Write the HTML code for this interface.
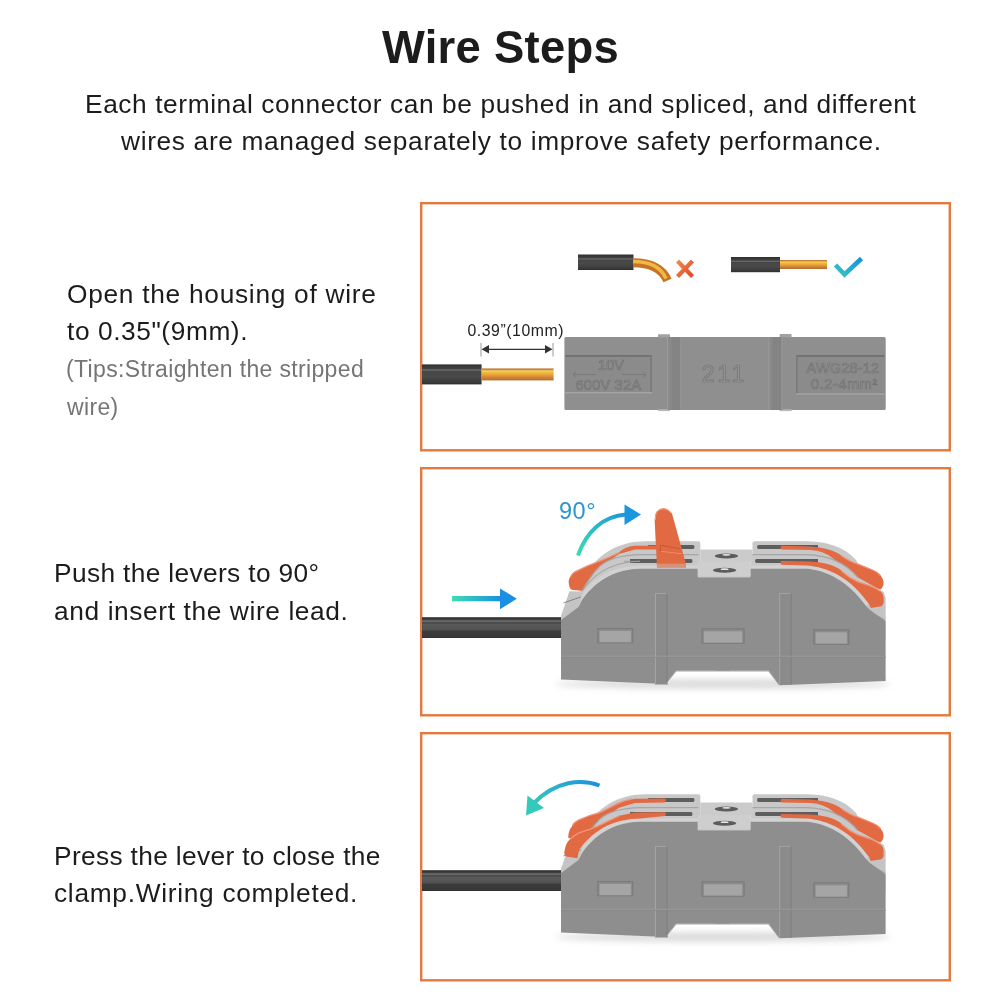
<!DOCTYPE html>
<html><head><meta charset="utf-8">
<style>
html,body{margin:0;padding:0;background:#fff;}
body{width:1000px;height:1000px;overflow:hidden;position:relative;}
.t{position:absolute;will-change:transform;font-family:"Liberation Sans",sans-serif;white-space:nowrap;line-height:1;color:#1c1c1c;}
svg{position:absolute;left:0;top:0;}
</style></head><body>
<div class="t" id="title" style="left:382px;top:25.0px;font-size:45.4px;font-weight:700;letter-spacing:0.278px;color:#1c1c1c;">Wire Steps</div>
<div class="t" id="s1" style="left:85px;top:90.6px;font-size:26.3px;font-weight:400;letter-spacing:0.591px;color:#1c1c1c;">Each terminal connector can be pushed in and spliced, and different</div>
<div class="t" id="s2" style="left:121px;top:127.6px;font-size:26.3px;font-weight:400;letter-spacing:0.655px;color:#1c1c1c;">wires are managed separately to improve safety performance.</div>
<div class="t" id="a1" style="left:66.5px;top:280.6px;font-size:26.3px;font-weight:400;letter-spacing:0.717px;color:#1c1c1c;">Open the housing of wire</div>
<div class="t" id="a2" style="left:67px;top:317.6px;font-size:26.3px;font-weight:400;letter-spacing:0.577px;color:#1c1c1c;">to 0.35"(9mm).</div>
<div class="t" id="a3" style="left:66px;top:358.4px;font-size:23px;font-weight:400;letter-spacing:0.343px;color:#757575;">(Tips:Straighten the stripped</div>
<div class="t" id="a4" style="left:66.6px;top:395.8px;font-size:23px;font-weight:400;letter-spacing:0.35px;color:#757575;">wire)</div>
<div class="t" id="b1" style="left:54px;top:560.4px;font-size:26.3px;font-weight:400;letter-spacing:0.357px;color:#1c1c1c;">Push the levers to 90°</div>
<div class="t" id="b2" style="left:53.75px;top:597.5px;font-size:26.3px;font-weight:400;letter-spacing:0.612px;color:#1c1c1c;">and insert the wire lead.</div>
<div class="t" id="c1" style="left:53.75px;top:842.7px;font-size:26.3px;font-weight:400;letter-spacing:0.341px;color:#1c1c1c;">Press the lever to close the</div>
<div class="t" id="c2" style="left:53.75px;top:879.5px;font-size:26.3px;font-weight:400;letter-spacing:0.705px;color:#1c1c1c;">clamp.Wiring completed.</div>

<svg width="1000" height="1000" viewBox="0 0 1000 1000">
<defs>
 <linearGradient id="cop" x1="0" y1="0" x2="0" y2="1">
  <stop offset="0" stop-color="#c27838"/><stop offset="0.14" stop-color="#cf8a40"/><stop offset="0.2" stop-color="#f4dc6c"/><stop offset="0.3" stop-color="#f2c03c"/><stop offset="0.5" stop-color="#e9a83a"/><stop offset="0.72" stop-color="#d4883a"/><stop offset="1" stop-color="#b76b2c"/>
 </linearGradient>
 <linearGradient id="blk" x1="0" y1="0" x2="0" y2="1">
  <stop offset="0" stop-color="#2c2c2c"/><stop offset="0.08" stop-color="#383838"/><stop offset="0.2" stop-color="#3e3e3e"/><stop offset="0.28" stop-color="#6c6c6c"/><stop offset="0.36" stop-color="#464646"/><stop offset="0.6" stop-color="#4a4a4a"/><stop offset="0.9" stop-color="#3a3a3a"/><stop offset="1" stop-color="#2c2c2c"/>
 </linearGradient>
 <linearGradient id="chk" x1="0" y1="1" x2="1" y2="0">
  <stop offset="0" stop-color="#34c7c4"/><stop offset="1" stop-color="#1a8ee0"/>
 </linearGradient>
 <linearGradient id="xg" x1="0" y1="0" x2="1" y2="1">
  <stop offset="0" stop-color="#f08a48"/><stop offset="1" stop-color="#e2492a"/>
 </linearGradient>
 <linearGradient id="arr" x1="0" y1="0" x2="1" y2="0">
  <stop offset="0" stop-color="#3ddcb2"/><stop offset="1" stop-color="#1a8fe2"/>
 </linearGradient>
 <linearGradient id="arr2" x1="452" y1="0" x2="501" y2="0" gradientUnits="userSpaceOnUse"><stop offset="0" stop-color="#3ddcb2"/><stop offset="1" stop-color="#1a8fe2"/></linearGradient>
 <linearGradient id="arc1" x1="578" y1="555" x2="626" y2="514" gradientUnits="userSpaceOnUse"><stop offset="0" stop-color="#3ddbb0"/><stop offset="1" stop-color="#1a96de"/></linearGradient>
 <linearGradient id="arc2" x1="600" y1="784" x2="530" y2="805" gradientUnits="userSpaceOnUse"><stop offset="0" stop-color="#1a8fe0"/><stop offset="1" stop-color="#35c9bb"/></linearGradient>
 <filter id="blur3" x="-20%" y="-200%" width="140%" height="500%"><feGaussianBlur stdDeviation="3"/></filter>
 <linearGradient id="wg" x1="0" y1="0" x2="0" y2="1">
  <stop offset="0" stop-color="#2e2e2e"/><stop offset="0.1" stop-color="#3a3a3a"/><stop offset="0.19" stop-color="#727272"/><stop offset="0.27" stop-color="#424242"/><stop offset="0.34" stop-color="#5a5a5a"/><stop offset="0.6" stop-color="#525252"/><stop offset="0.68" stop-color="#3c3c3c"/><stop offset="0.95" stop-color="#383838"/><stop offset="1" stop-color="#2c2c2c"/>
 </linearGradient>
</defs>

<!-- boxes -->
<g fill="none" stroke="#e3793f" stroke-width="2.4">
 <rect x="421.2" y="203.2" width="528.6" height="247.1"/>
 <rect x="421.2" y="468.2" width="528.6" height="247.1"/>
 <rect x="421.2" y="733.2" width="528.6" height="247.1"/>
</g>

<!-- ===== BOX 1 ===== -->
<!-- bent wire -->
<rect x="578" y="254.5" width="55.5" height="15.5" fill="url(#blk)"/>
<path d="M633,262.8 C650,262.8 662,268 667.5,280.5" fill="none" stroke="#c57428" stroke-width="9"/>
<path d="M633,261.5 C650,261.5 661,267 666,278.5" fill="none" stroke="#f0b844" stroke-width="3.5"/>
<!-- X -->
<g stroke="url(#xg)" stroke-width="4.2" stroke-linecap="butt">
 <line x1="677.5" y1="261" x2="692.5" y2="276.5"/>
 <line x1="692.5" y1="261" x2="677.5" y2="276.5"/>
</g>
<!-- straight wire -->
<rect x="731" y="257" width="49" height="15.2" fill="url(#blk)"/>
<rect x="780" y="260" width="47" height="9" fill="url(#cop)"/>
<!-- check -->
<polyline points="835.5,265 844.5,274.5 861.5,258.5" fill="none" stroke="url(#chk)" stroke-width="4.6"/>

<!-- dimension -->
<text x="467.5" y="335.6" font-family="Liberation Sans" font-size="15.8" fill="#222" letter-spacing="0.55">0.39”(10mm)</text>
<g stroke="#9a9a9a" stroke-width="1"><line x1="481" y1="343" x2="481" y2="356.5"/><line x1="553" y1="343" x2="553" y2="356.5"/></g>
<line x1="484" y1="349.3" x2="550" y2="349.3" stroke="#333" stroke-width="1.2"/>
<path d="M481.5,349.3 L489,345 L489,353.6Z M552.5,349.3 L545,345 L545,353.6Z" fill="#333"/>
<!-- wire with copper -->
<rect x="422" y="364.4" width="59.6" height="20" fill="url(#blk)"/>
<rect x="481.6" y="368.4" width="72" height="12" fill="url(#cop)"/>

<!-- flat connector -->
<g>
 <rect x="564.4" y="337" width="321.3" height="73" rx="1.5" fill="#8f8f8f"/>
 <rect x="658" y="334.3" width="12" height="3.2" rx="0.8" fill="#a2a2a2"/>
 <rect x="779.6" y="334.1" width="12" height="3.2" rx="0.8" fill="#a2a2a2"/>
 <rect x="658" y="409.3" width="12" height="1.8" fill="#b8b8b8"/>
 <rect x="779.6" y="409.3" width="12" height="1.8" fill="#b8b8b8"/>
 <rect x="667" y="337" width="14" height="73" fill="#8a8a8a"/>
 <rect x="671.5" y="337" width="9" height="73" fill="#848484"/>
 <rect x="667" y="337" width="1" height="73" fill="#9c9c9c"/>
 <rect x="680.3" y="337" width="1" height="73" fill="#989898"/>
 <rect x="768.4" y="337" width="14" height="73" fill="#8a8a8a"/>
 <rect x="772.5" y="337" width="9" height="73" fill="#848484"/>
 <rect x="768.4" y="337" width="1" height="73" fill="#9c9c9c"/>
 <rect x="781.4" y="337" width="1" height="73" fill="#989898"/>
 <rect x="565.2" y="355" width="86.7" height="37.3" fill="#8b8b8b"/>
 <rect x="565.2" y="355" width="86.7" height="1.8" fill="#707070"/>
 <rect x="650.3" y="355" width="1.6" height="37.3" fill="#7a7a7a"/>
 <rect x="565.2" y="392" width="86.7" height="1.5" fill="#a4a4a4"/>
 <rect x="796" y="355" width="88.4" height="39" fill="#8b8b8b"/>
 <rect x="796" y="355" width="88.4" height="1.8" fill="#707070"/>
 <rect x="796" y="355" width="1.6" height="39" fill="#7a7a7a"/>
 <rect x="796" y="393.3" width="88.4" height="1.5" fill="#a4a4a4"/>
 <g font-family="Liberation Sans" fill="#959595" stroke="#727272" stroke-width="0.7">
  <text x="724.5" y="382" font-size="23" text-anchor="middle" letter-spacing="3">211</text>
  <text x="611" y="370" font-size="14.5" text-anchor="middle">10V</text>
  <text x="608.5" y="390" font-size="14.5" text-anchor="middle" letter-spacing="0.3">600V 32A</text>
  <text x="843" y="372.5" font-size="14.5" text-anchor="middle" letter-spacing="0.2">AWG28-12</text>
  <text x="844.5" y="388.5" font-size="14.5" text-anchor="middle" letter-spacing="0.6">0.2-4mm²</text>
 </g>
 <g stroke="#767676" stroke-width="0.8" fill="none">
  <path d="M 573,374.5 L 596,374.5 M 576,372 L 573,374.5 L 576,377 M 622,374.5 L 646,374.5 M 643,372 L 646,374.5 L 643,377"/>
 </g>
</g>
<!--CONN-->
<g>
<rect x="422" y="617.2" width="139" height="20.8" fill="url(#wg)"/>
<ellipse cx="723" cy="684" rx="168" ry="5" fill="#dcdcdc" filter="url(#blur3)"/>
<path d="M 700.3,543.3 Q 700.3,541.3 698.3,541.3 L 645,541.3 C 622,541.8 604,550 590,568 L 580,590 L 580,640 L 700.3,640 Z" fill="#c8c8c8" />
<path d="M 752.5,543.3 Q 752.5,541.3 754.5,541.3 L 808,541.3 C 828,541.8 844,547 856,560 L 872,590 L 872,640 L 752.5,640 Z" fill="#c8c8c8" />
<path d="M 648,544.9 L 693.5,544.9 Q 695.5,546.9 693.5,549 L 648,549 Z" fill="#5e5e5e" />
<path d="M 758,544.9 L 818,544.9 L 818,549 L 758,549 Q 756,546.9 758,544.9 Z" fill="#5e5e5e" />
<path d="M 662,545.6 L 635,545.8 C 627,546.3 623,549 619,552.4 L 607,558 L 599,561.2 L 587,566 L 575,571.6 Q 572,573.5 571,575.6 Q 568.8,578.5 568.6,582 L 569.4,586.8 Q 570,589.5 572.6,590 L 582.2,590.8 L 590,580 L 600,567 L 619,554 L 635,549.6 L 662,549.4 Z" fill="#e26a43" />
<path d="M 619,552.6 L 607,558.2 L 599,561.4 L 587,566.2 L 575,571.8 Q 572,573.7 571.2,575.8" fill="none" stroke="#ef9478" stroke-width="1.3" stroke-linecap="round"/>
<path d="M 781.5,545.8 L 810,546.4 C 822,547.5 834,549.5 842,556 C 848,560 853,562.5 858,564 L 870,568.8 Q 878,572 880.4,575.2 Q 883.6,579 883.6,582.4 Q 883.6,587 880.4,589.6 L 870,586 L 858,581 L 850,577 L 842,571 C 836,556 822,550.5 810,550 L 781.5,549.6 Q 779.5,547.7 781.5,545.8 Z" fill="#e26a43" />
<path d="M 842,556.2 C 848,560.2 853,562.7 858,564.2 L 870,569 Q 878,572.2 880.2,575.4" fill="none" stroke="#ef9478" stroke-width="1.3" stroke-linecap="round"/>
<path d="M 698.5,556.3 Q 698.5,554.5 696.7,554.5 L 640,554.5 C 622,555 608,559 600,566 C 592,574 587,582 582,591 L 584,640 L 698.5,640 Z" fill="#c8c8c8" />
<path d="M 698.5,554.6 L 640,554.6 C 622,555 608,559 600,566 C 592,574 587,582 582,591" fill="none" stroke="#a6a6a6" stroke-width="1.1" />
<path d="M 750.7,556.3 Q 750.7,554.5 752.5,554.5 L 806,554.5 C 826,555 845,562 858,577.6 L 884,592 L 884,640 L 750.7,640 Z" fill="#c8c8c8" />
<path d="M 750.7,554.6 L 806,554.6 C 826,555 845,562 858,577.6" fill="none" stroke="#a6a6a6" stroke-width="1.1" />
<path d="M 630,558.9 L 691.5,558.9 Q 693.5,561 691.5,563.1 L 630,563.1 Z" fill="#5e5e5e" />
<path d="M 756,558.9 L 818,558.9 L 818,563.1 L 756,563.1 Q 754,561 756,558.9 Z" fill="#5e5e5e" />
<path d="M 730,565.4 L 640,565.4 C 616,565.9 595,574.6 579,597 L 575.5,606 L 561,616 L 561,640 L 730,640 Z" fill="#d2d2d2" />
<path d="M 716,565.4 L 806,565.4 C 828,566.6 851,578 869,604 L 873,609 L 885.6,617 L 885.6,640 L 716,640 Z" fill="#d2d2d2" />
<path d="M 569.4,591.2 L 583.5,591.4 L 578.5,607 L 561,620 L 561,616 Z" fill="#c4c4c4" />
<path d="M 563.5,603 L 580.5,597" fill="none" stroke="#707070" stroke-width="0.8" />
<path d="M 866,606 L 884,593 L 885.6,598 L 885.6,621.2 L 870,610 Z" fill="#c4c4c4" />
<path d="M 870.5,612 L 885,620" fill="none" stroke="#9a9a9a" stroke-width="0.8" />
<path d="M 624,561.3 L 640,561.3 C 616,561.8 597,570 583,590" fill="none" stroke="#9c9c9c" stroke-width="0.9" />
<path d="M 781.5,561 L 810,561.6 C 818,562 826,563.5 830,564.8 C 836,567 840,569 842,571.2 L 850,577.6 L 858,581.6 L 870,585.6 Q 878,589 880.4,591.2 Q 883.6,594 883.6,598 L 883.6,602.4 Q 883,606 880,606.6 L 870.8,608 L 869,604 C 851,578 828,566.6 806,565.4 L 781.5,564.8 Q 779.5,562.9 781.5,561 Z" fill="#e26a43" />
<path d="M 842,571.4 L 850,577.8 L 858,581.8 L 870,585.8 Q 878,589.2 880.2,591.4" fill="none" stroke="#ef9478" stroke-width="1.3" stroke-linecap="round"/>
<path d="M 730,568.8 L 640,568.8 C 618,569.3 598,578 582,600 L 578.5,607 L 561,620 L 561,679.5 L 665.5,684 L 676,670.8 L 730,670.8 Z" fill="#8e8e8e" />
<path d="M 716,568.8 L 806,568.8 C 826,570 848,581 866,606 L 870,610 L 885.6,621.2 L 885.6,681 L 779.5,685.2 L 768.8,670.8 L 716,670.8 Z" fill="#8e8e8e" />
<rect x="655" y="593" width="12.3" height="91.5" fill="#8b8b8b"/>
<path d="M 655.5,593 L 655.5,684.5" fill="none" stroke="#a4a4a4" stroke-width="1" />
<path d="M 655,593.5 L 667.3,593.5" fill="none" stroke="#a2a2a2" stroke-width="1" />
<path d="M 667,593 L 667,684.5" fill="none" stroke="#7e7e7e" stroke-width="1" />
<rect x="779.2" y="593" width="12.3" height="91.5" fill="#8b8b8b"/>
<path d="M 779.7,593 L 779.7,684.5" fill="none" stroke="#a4a4a4" stroke-width="1" />
<path d="M 779.2,593.5 L 791.5,593.5" fill="none" stroke="#a2a2a2" stroke-width="1" />
<path d="M 791.2,593 L 791.2,684.5" fill="none" stroke="#7e7e7e" stroke-width="1" />
<path d="M 561,656.3 L 885.6,656.3" fill="none" stroke="#9e9e9e" stroke-width="1" />
<path d="M 561,657.3 L 885.6,657.3" fill="none" stroke="#878787" stroke-width="0.8" />
<path d="M 666,683.5 L 676.3,671 L 768.5,671 L 779,684.7" fill="none" stroke="#9c9c9c" stroke-width="0.9" />
<rect x="597.2" y="628" width="36.1" height="15.3" fill="#7a7a7a"/>
<rect x="598.3000000000001" y="629.1" width="33.9" height="13.5" fill="#8b8b8b"/>
<rect x="599.6" y="631" width="31.3" height="11.1" fill="#a5a5a5"/>
<rect x="701.5" y="628.3" width="43.1" height="15.4" fill="#7a7a7a"/>
<rect x="702.6" y="629.4" width="40.9" height="13.6" fill="#8b8b8b"/>
<rect x="703.9" y="631.3" width="38.3" height="11.2" fill="#a5a5a5"/>
<rect x="813.3" y="629.3" width="36" height="15.4" fill="#7a7a7a"/>
<rect x="814.4" y="630.4" width="33.8" height="13.6" fill="#8b8b8b"/>
<rect x="815.6999999999999" y="632.3" width="31.2" height="11.2" fill="#a5a5a5"/>
<path d="M 700.3,549.5 L 752.5,549.5 L 752.5,562 L 700.3,562 Z" fill="#cbcbcb" />
<ellipse cx="726.4" cy="555.9" rx="11.7" ry="2.5" fill="#5c5c5c"/>
<ellipse cx="726.4" cy="554.8" rx="4" ry="0.9" fill="#e6e6e6"/>
<path d="M 697.6,562 L 750.7,562 L 750.7,576 Q 750.7,577.6 749,577.6 L 699,577.6 Q 697.6,577.6 697.6,576 Z" fill="#cecece" />
<path d="M 698.5,577.4 L 750,577.4" fill="none" stroke="#a6a6a6" stroke-width="1" />
<ellipse cx="724.6" cy="570.3" rx="11.7" ry="2.5" fill="#5c5c5c"/>
<ellipse cx="724.6" cy="569.2" rx="4" ry="0.9" fill="#e6e6e6"/>
<path d="M 657,567.5 L 654.75,522.5 Q 654.5,514 657,511 Q 660.5,508 664,508.3 Q 669,509 672,513.5 L 685.5,562.3 L 686,567.5 Z" fill="#e26a43" />
<path d="M 657,563.8 L 685.5,563.8 L 686,567.5 L 657,567.5 Z" fill="#d98f78" />
<path d="M 660.4,551.2 L 660.4,545.2 L 679.5,548.6" fill="none" stroke="#c9572f" stroke-width="1" />
<path d="M 661,551.3 L 682,553.8" fill="none" stroke="#ee8a66" stroke-width="1" />
<path d="M 655.3,520 Q 655,514 657.5,511.3 Q 660.5,508.6 664,508.8 Q 668.5,509.4 671.3,513.3" fill="none" stroke="#f0a080" stroke-width="1" />
</g>
<g transform="translate(0,253)">
<rect x="422" y="617.2" width="139" height="20.8" fill="url(#wg)"/>
<ellipse cx="723" cy="684" rx="168" ry="5" fill="#dcdcdc" filter="url(#blur3)"/>
<path d="M 700.3,543.3 Q 700.3,541.3 698.3,541.3 L 645,541.3 C 622,541.8 604,550 590,568 L 580,590 L 580,640 L 700.3,640 Z" fill="#c8c8c8" />
<path d="M 752.5,543.3 Q 752.5,541.3 754.5,541.3 L 808,541.3 C 828,541.8 844,547 856,560 L 872,590 L 872,640 L 752.5,640 Z" fill="#c8c8c8" />
<path d="M 648,544.9 L 693.5,544.9 Q 695.5,546.9 693.5,549 L 648,549 Z" fill="#5e5e5e" />
<path d="M 758,544.9 L 818,544.9 L 818,549 L 758,549 Q 756,546.9 758,544.9 Z" fill="#5e5e5e" />
<path d="M 665,545.6 L 635,545.8 C 628,546.5 618,550 611,554 L 599.8,559.6 L 591,562 L 579,566.8 Q 574,569.5 572.6,572.4 Q 569,576 568.6,580.4 L 568.2,584.4 Q 569,586 573.4,584.6 L 587,578 L 595,572.4 L 603,566 L 619,554.8 L 635,550 L 665,549.4 Q 667,547.5 665,545.6 Z" fill="#e26a43" />
<path d="M 632,546 C 626,547 618,550 611,554 L 599.8,559.6 L 591,562 L 579,566.8 Q 574,569.5 572.6,572.4" fill="none" stroke="#ef9478" stroke-width="1.3" stroke-linecap="round"/>
<path d="M 781.5,545.8 L 810,546.4 C 822,547.5 834,549.5 842,556 C 848,560 853,562.5 858,564 L 870,568.8 Q 878,572 880.4,575.2 Q 883.6,579 883.6,582.4 Q 883.6,587 880.4,589.6 L 870,586 L 858,581 L 850,577 L 842,571 C 836,556 822,550.5 810,550 L 781.5,549.6 Q 779.5,547.7 781.5,545.8 Z" fill="#e26a43" />
<path d="M 842,556.2 C 848,560.2 853,562.7 858,564.2 L 870,569 Q 878,572.2 880.2,575.4" fill="none" stroke="#ef9478" stroke-width="1.3" stroke-linecap="round"/>
<path d="M 698.5,556.3 Q 698.5,554.5 696.7,554.5 L 640,554.5 C 622,555 608,559 600,566 C 592,574 587,582 582,591 L 584,640 L 698.5,640 Z" fill="#c8c8c8" />
<path d="M 698.5,554.6 L 640,554.6 C 622,555 608,559 600,566 C 592,574 587,582 582,591" fill="none" stroke="#a6a6a6" stroke-width="1.1" />
<path d="M 750.7,556.3 Q 750.7,554.5 752.5,554.5 L 806,554.5 C 826,555 845,562 858,577.6 L 884,592 L 884,640 L 750.7,640 Z" fill="#c8c8c8" />
<path d="M 750.7,554.6 L 806,554.6 C 826,555 845,562 858,577.6" fill="none" stroke="#a6a6a6" stroke-width="1.1" />
<path d="M 630,558.9 L 691.5,558.9 Q 693.5,561 691.5,563.1 L 630,563.1 Z" fill="#5e5e5e" />
<path d="M 756,558.9 L 818,558.9 L 818,563.1 L 756,563.1 Q 754,561 756,558.9 Z" fill="#5e5e5e" />
<path d="M 730,565.4 L 640,565.4 C 616,565.9 595,574.6 579,597 L 575.5,606 L 561,616 L 561,640 L 730,640 Z" fill="#d2d2d2" />
<path d="M 716,565.4 L 806,565.4 C 828,566.6 851,578 869,604 L 873,609 L 885.6,617 L 885.6,640 L 716,640 Z" fill="#d2d2d2" />
<path d="M 569.4,591.2 L 583.5,591.4 L 578.5,607 L 561,620 L 561,616 Z" fill="#c4c4c4" />
<path d="M 563.5,603 L 580.5,597" fill="none" stroke="#707070" stroke-width="0.8" />
<path d="M 866,606 L 884,593 L 885.6,598 L 885.6,621.2 L 870,610 Z" fill="#c4c4c4" />
<path d="M 870.5,612 L 885,620" fill="none" stroke="#9a9a9a" stroke-width="0.8" />
<path d="M 665,559.2 L 635,559.6 L 619,562.8 L 607,568.4 L 599,572.4 L 591,575.6 L 579,579.6 Q 574,582 571,585.2 Q 566.5,589 565.4,594 L 564.2,599.6 Q 564.5,603 566.2,603.6 L 577.4,605.2 L 579,597 C 595,574.6 616,565.9 640,565.4 L 665,563 Q 667,561.1 665,559.2 Z" fill="#e26a43" />
<path d="M 619,563 L 607,568.6 L 599,572.6 L 591,575.8 L 579,579.8 Q 574,582.2 571.2,585.4" fill="none" stroke="#ef9478" stroke-width="1.3" stroke-linecap="round"/>
<path d="M 781.5,561 L 810,561.6 C 818,562 826,563.5 830,564.8 C 836,567 840,569 842,571.2 L 850,577.6 L 858,581.6 L 870,585.6 Q 878,589 880.4,591.2 Q 883.6,594 883.6,598 L 883.6,602.4 Q 883,606 880,606.6 L 870.8,608 L 869,604 C 851,578 828,566.6 806,565.4 L 781.5,564.8 Q 779.5,562.9 781.5,561 Z" fill="#e26a43" />
<path d="M 842,571.4 L 850,577.8 L 858,581.8 L 870,585.8 Q 878,589.2 880.2,591.4" fill="none" stroke="#ef9478" stroke-width="1.3" stroke-linecap="round"/>
<path d="M 730,568.8 L 640,568.8 C 618,569.3 598,578 582,600 L 578.5,607 L 561,620 L 561,679.5 L 665.5,684 L 676,670.8 L 730,670.8 Z" fill="#8e8e8e" />
<path d="M 716,568.8 L 806,568.8 C 826,570 848,581 866,606 L 870,610 L 885.6,621.2 L 885.6,681 L 779.5,685.2 L 768.8,670.8 L 716,670.8 Z" fill="#8e8e8e" />
<rect x="655" y="593" width="12.3" height="91.5" fill="#8b8b8b"/>
<path d="M 655.5,593 L 655.5,684.5" fill="none" stroke="#a4a4a4" stroke-width="1" />
<path d="M 655,593.5 L 667.3,593.5" fill="none" stroke="#a2a2a2" stroke-width="1" />
<path d="M 667,593 L 667,684.5" fill="none" stroke="#7e7e7e" stroke-width="1" />
<rect x="779.2" y="593" width="12.3" height="91.5" fill="#8b8b8b"/>
<path d="M 779.7,593 L 779.7,684.5" fill="none" stroke="#a4a4a4" stroke-width="1" />
<path d="M 779.2,593.5 L 791.5,593.5" fill="none" stroke="#a2a2a2" stroke-width="1" />
<path d="M 791.2,593 L 791.2,684.5" fill="none" stroke="#7e7e7e" stroke-width="1" />
<path d="M 561,656.3 L 885.6,656.3" fill="none" stroke="#9e9e9e" stroke-width="1" />
<path d="M 561,657.3 L 885.6,657.3" fill="none" stroke="#878787" stroke-width="0.8" />
<path d="M 666,683.5 L 676.3,671 L 768.5,671 L 779,684.7" fill="none" stroke="#9c9c9c" stroke-width="0.9" />
<rect x="597.2" y="628" width="36.1" height="15.3" fill="#7a7a7a"/>
<rect x="598.3000000000001" y="629.1" width="33.9" height="13.5" fill="#8b8b8b"/>
<rect x="599.6" y="631" width="31.3" height="11.1" fill="#a5a5a5"/>
<rect x="701.5" y="628.3" width="43.1" height="15.4" fill="#7a7a7a"/>
<rect x="702.6" y="629.4" width="40.9" height="13.6" fill="#8b8b8b"/>
<rect x="703.9" y="631.3" width="38.3" height="11.2" fill="#a5a5a5"/>
<rect x="813.3" y="629.3" width="36" height="15.4" fill="#7a7a7a"/>
<rect x="814.4" y="630.4" width="33.8" height="13.6" fill="#8b8b8b"/>
<rect x="815.6999999999999" y="632.3" width="31.2" height="11.2" fill="#a5a5a5"/>
<path d="M 700.3,549.5 L 752.5,549.5 L 752.5,562 L 700.3,562 Z" fill="#cbcbcb" />
<ellipse cx="726.4" cy="555.9" rx="11.7" ry="2.5" fill="#5c5c5c"/>
<ellipse cx="726.4" cy="554.8" rx="4" ry="0.9" fill="#e6e6e6"/>
<path d="M 697.6,562 L 750.7,562 L 750.7,576 Q 750.7,577.6 749,577.6 L 699,577.6 Q 697.6,577.6 697.6,576 Z" fill="#cecece" />
<path d="M 698.5,577.4 L 750,577.4" fill="none" stroke="#a6a6a6" stroke-width="1" />
<ellipse cx="724.6" cy="570.3" rx="11.7" ry="2.5" fill="#5c5c5c"/>
<ellipse cx="724.6" cy="569.2" rx="4" ry="0.9" fill="#e6e6e6"/>
</g>
<path d="M 452,598.6 L 501,598.6" stroke="url(#arr2)" stroke-width="5.3"/>
<path d="M 500,588.4 L 516.8,598.8 L 500,609.2 Z" fill="#1a8fe3"/>
<text x="559" y="519" font-family="Liberation Sans" font-size="23.5" fill="#2a95d2" letter-spacing="0.5">90°</text>
<path d="M 578,555.5 C 586,532 603,516 626,514.5" fill="none" stroke="url(#arc1)" stroke-width="4"/>
<path d="M 624.5,504.5 L 641,514.5 L 624.5,525 Z" fill="#1a96de"/>
<path d="M 599.5,785.5 C 582,779 556,780 533,804" fill="none" stroke="url(#arc2)" stroke-width="4"/>
<path d="M 527.5,795.5 L 544,808 L 526,815.5 Z" fill="#35c9bb"/>
<!--/CONN-->
</svg>
</body></html>
